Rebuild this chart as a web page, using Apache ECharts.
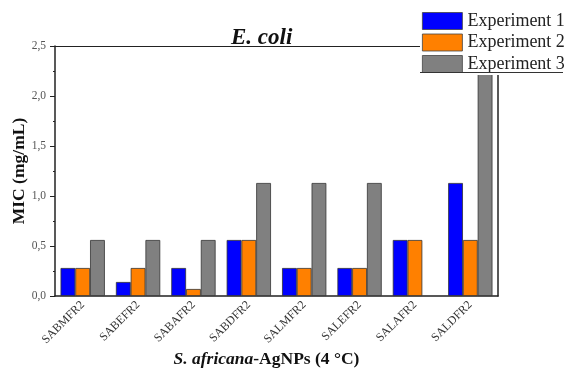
<!DOCTYPE html>
<html>
<head>
<meta charset="utf-8">
<script src="https://cdn.jsdelivr.net/npm/echarts@6/dist/echarts.min.js"></script>
<style>
  html, body { margin: 0; padding: 0; background: #fff; }
  #chart { width: 566px; height: 369px; }
</style>
</head>
<body>
<div id="chart"></div>
<script>
// Extract codes (S. africana silver nanoparticles, stored at 4 °C)
const categories = ['SABMFR2', 'SABEFR2', 'SABAFR2', 'SABDFR2', 'SALMFR2', 'SALEFR2', 'SALAFR2', 'SALDFR2'];

// MIC values (mg/mL) per experiment
const experiment1 = [0.28, 0.14, 0.28, 0.56, 0.28, 0.28, 0.56, 1.13];
const experiment2 = [0.28, 0.28, 0.07, 0.56, 0.28, 0.28, 0.56, 0.56];
const experiment3 = [0.56, 0.56, 0.56, 1.13, 1.13, 1.13, null, 2.25];

const seriesNames = ['Experiment 1', 'Experiment 2', 'Experiment 3'];
const seriesColors = ['#0000ff', '#ff8000', '#808080'];

const serif = '"Liberation Serif", "DejaVu Serif", serif';
const textColor = '#222';
const axisColor = '#222';

const chart = echarts.init(document.getElementById('chart'), null, { renderer: 'canvas' });

const fmt = v => v.toFixed(1).replace('.', ',');

const makeBar = (name, data, color) => ({
  name,
  type: 'bar',
  data,
  xAxisIndex: 0,
  yAxisIndex: 0,
  barGap: '0%',
  barCategoryGap: '20%',
  itemStyle: { color, borderColor: '#333', borderWidth: 0.8 }
});

chart.setOption({
  animation: false,
  backgroundColor: '#fff',
  title: {
    text: 'E. coli',
    left: 226,
    top: 22,
    textStyle: { fontFamily: serif, fontStyle: 'italic', fontWeight: 'bold', fontSize: 23, color: '#111' }
  },
  legend: {
    orient: 'vertical',
    left: 420,
    top: 8,
    padding: [4, 4, 2, 2],
    itemWidth: 40,
    itemHeight: 17,
    itemGap: 3.5,
    backgroundColor: '#fff',
    z: 20,
    icon: 'rect',
    data: seriesNames,
    itemStyle: { borderColor: '#444', borderWidth: 0.8 },
    textStyle: { fontFamily: serif, fontSize: 18, color: textColor, padding: [0, 0, 0, 0] }
  },
  graphic: [{
    type: 'line',
    z: 30,
    shape: { x1: 420, y1: 72.5, x2: 563, y2: 72.5 },
    style: { stroke: '#333', lineWidth: 1.2 }
  }],
  grid: { left: 55, right: 68, top: 46, bottom: 73, containLabel: false, outerBoundsMode: 'none' },
  xAxis: [{
    type: 'category',
    data: categories,
    position: 'bottom',
    axisLine: { lineStyle: { color: axisColor, width: 1.5 } },
    axisTick: { alignWithLabel: true, length: 5, lineStyle: { color: axisColor, width: 1.2 } },
    axisLabel: { rotate: 45, fontFamily: serif, fontSize: 12, color: '#333', margin: 7 },
    name: '{i|S. africana}{b|-AgNPs (4 °C)}',
    nameLocation: 'middle',
    nameGap: 54,
    nameMoveOverlap: false,
    nameTextStyle: {
      padding: [0, 20, 0, 0],
      rich: {
        i: { fontFamily: serif, fontSize: 17.5, fontWeight: 'bold', fontStyle: 'italic', color: '#111' },
        b: { fontFamily: serif, fontSize: 17.5, fontWeight: 'bold', color: '#111' }
      }
    }
  }, {
    // boundary ticks between groups
    type: 'category',
    data: categories,
    position: 'bottom',
    axisLine: { show: false },
    axisTick: { length: 2, lineStyle: { color: axisColor, width: 1 } },
    axisLabel: { show: false }
  }, {
    // top frame line
    type: 'category',
    data: categories,
    position: 'top',
    axisLine: { lineStyle: { color: axisColor, width: 1.2 } },
    axisTick: { show: false },
    axisLabel: { show: false }
  }],
  yAxis: [{
    type: 'value',
    min: 0,
    max: 2.5,
    interval: 0.5,
    splitLine: { show: false },
    axisLine: { show: true, lineStyle: { color: axisColor, width: 1.5 } },
    axisTick: { show: true, length: 5, lineStyle: { color: axisColor } },
    minorTick: { show: true, splitNumber: 2, length: 2, lineStyle: { color: axisColor } },
    axisLabel: { formatter: fmt, fontFamily: serif, fontSize: 11.5, color: '#555', margin: 9 },
    name: 'MIC (mg/mL)',
    nameLocation: 'middle',
    nameGap: 27,
    nameMoveOverlap: false,
    nameTextStyle: { fontFamily: serif, fontSize: 17.5, fontWeight: 'bold', color: '#111' }
  }, {
    // right frame line
    type: 'value',
    position: 'right',
    min: 0,
    max: 2.5,
    interval: 0.5,
    splitLine: { show: false },
    axisLine: { show: true, lineStyle: { color: axisColor, width: 1.5 } },
    axisTick: { show: false },
    axisLabel: { show: false }
  }],
  series: [
    makeBar(seriesNames[0], experiment1, seriesColors[0]),
    makeBar(seriesNames[1], experiment2, seriesColors[1]),
    makeBar(seriesNames[2], experiment3, seriesColors[2])
  ]
});
</script>
</body>
</html>
